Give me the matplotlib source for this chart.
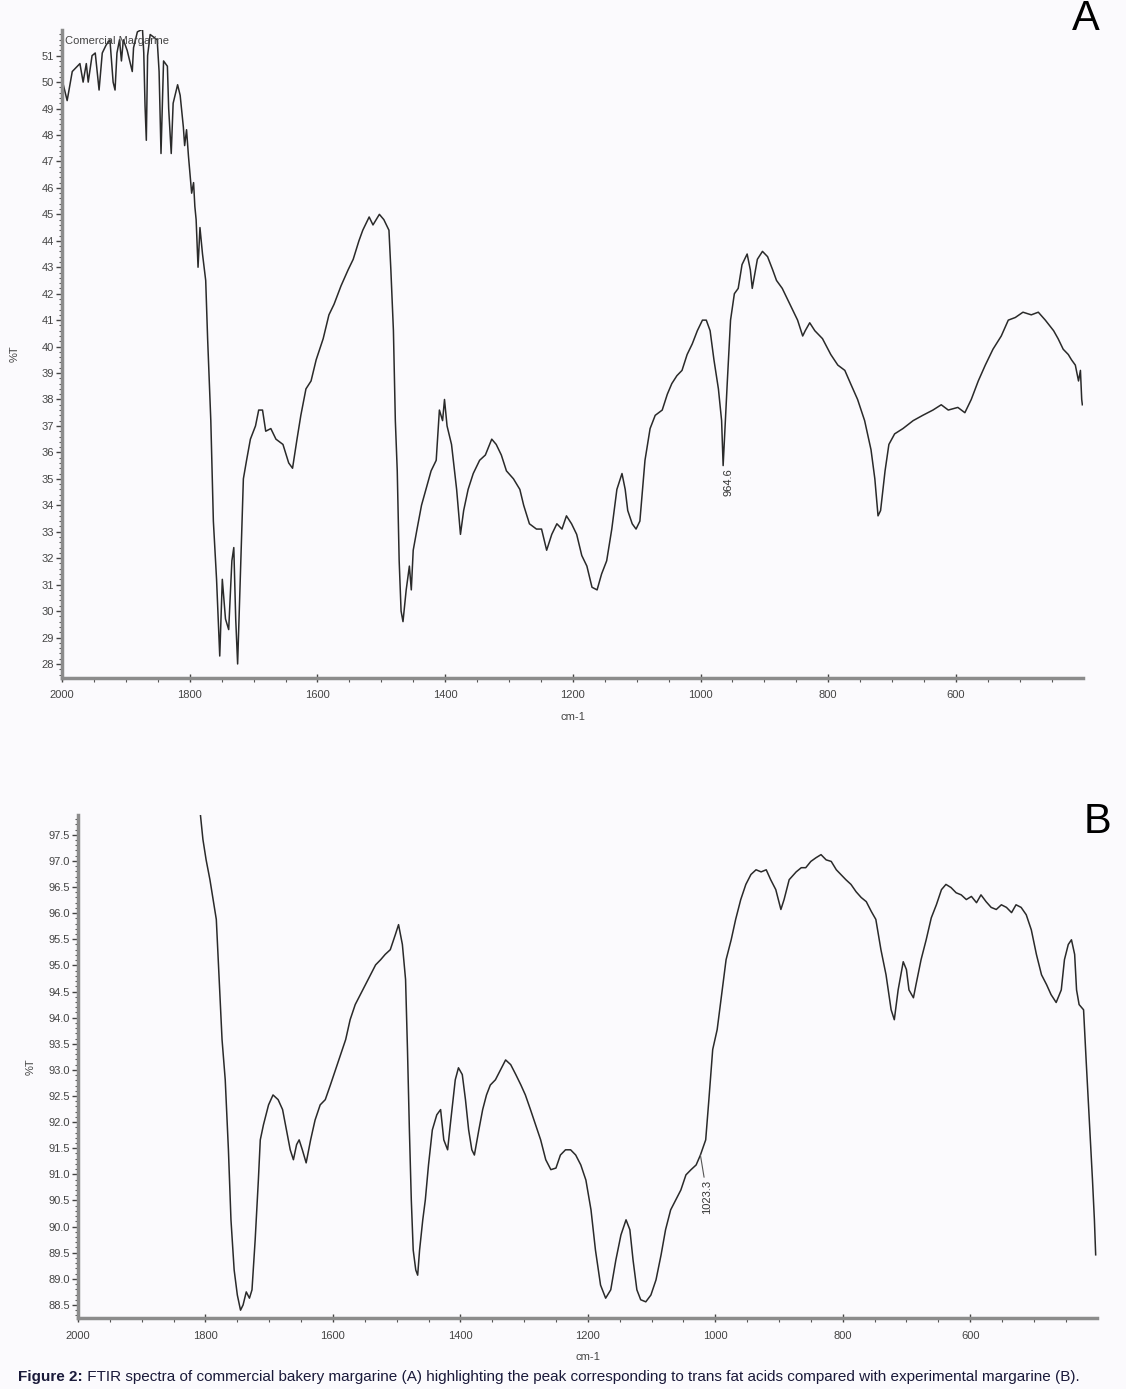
"""
FTIR spectra of commercial (A) and experimental (B) margarine.
"""

import numpy as np
import matplotlib
matplotlib.use('Agg')
import matplotlib.pyplot as plt
from matplotlib.ticker import MultipleLocator

plt.rcParams['font.family'] = ['Liberation Sans', 'DejaVu Sans']

# spectrum A : commercial margarine (wavenumber cm-1, %T)
a_wn = [2000, 1992, 1984, 1972, 1967, 1962, 1959, 1953, 1948, 1942, 1937, 1931,
        1925, 1920, 1917, 1914, 1910, 1907, 1904, 1898, 1890, 1888, 1882, 1874,
        1872, 1870, 1868, 1866, 1862, 1851, 1848, 1845, 1841, 1835, 1833, 1829,
        1826, 1819, 1815, 1810, 1808, 1805, 1802, 1797, 1794, 1792, 1790, 1787,
        1784, 1780, 1775, 1772, 1767, 1763, 1758, 1753, 1749, 1744, 1739, 1734,
        1731, 1728, 1725, 1720, 1716, 1711, 1705, 1697, 1692, 1686, 1681, 1673,
        1665, 1654, 1645, 1639, 1632, 1626, 1618, 1610, 1602, 1591, 1582, 1574,
        1563, 1552, 1544, 1535, 1529, 1519, 1513, 1503, 1496, 1488, 1485, 1481,
        1478, 1475, 1472, 1469, 1466, 1461, 1456, 1453, 1450, 1444, 1437, 1430,
        1422, 1414, 1409, 1404, 1401, 1397, 1390, 1382, 1376, 1371, 1364, 1356,
        1346, 1337, 1327, 1320, 1312, 1304, 1293, 1283, 1277, 1268, 1257, 1249,
        1241, 1233, 1225, 1217, 1210, 1202, 1194, 1186, 1178, 1170, 1162, 1155,
        1147, 1139, 1131, 1123, 1118, 1114, 1107, 1101, 1095, 1087, 1079, 1071,
        1060, 1052, 1045, 1037, 1029, 1021, 1013, 1005, 997, 991, 985, 979,
        972, 967, 964.6, 958, 953, 947, 941, 935, 927, 922, 919, 911,
        903, 895, 887, 881, 872, 864, 856, 848, 840, 836, 829, 821,
        809, 796, 785, 774, 765, 754, 743, 733, 727, 722, 718, 711,
        705, 696, 683, 667, 652, 636, 623, 612, 597, 586, 576, 565,
        554, 542, 529, 518, 507, 495, 482, 471, 460, 447, 440, 432,
        424, 419, 413, 408, 405, 403, 402]
a_t = [50.1, 49.3, 50.4, 50.7, 50.0, 50.7, 50.0, 51.0, 51.1, 49.7, 51.1, 51.4,
       51.6, 50.0, 49.7, 51.1, 51.6, 50.8, 51.6, 51.2, 50.4, 51.3, 51.9, 52.0,
       51.1, 49.1, 47.8, 51.0, 51.8, 51.6, 50.4, 47.3, 50.8, 50.6, 49.0, 47.3,
       49.2, 49.9, 49.5, 48.3, 47.6, 48.2, 47.2, 45.8, 46.2, 45.3, 44.8, 43.0,
       44.5, 43.5, 42.5, 40.3, 37.2, 33.4, 31.2, 28.3, 31.2, 29.7, 29.3, 31.9,
       32.4, 29.7, 28.0, 31.9, 35.0, 35.7, 36.5, 37.0, 37.6, 37.6, 36.8, 36.9,
       36.5, 36.3, 35.6, 35.4, 36.5, 37.4, 38.4, 38.7, 39.5, 40.3, 41.2, 41.6,
       42.3, 42.9, 43.3, 44.0, 44.4, 44.9, 44.6, 45.0, 44.8, 44.4, 42.9, 40.6,
       37.2, 35.3, 31.9, 30.0, 29.6, 30.8, 31.7, 30.8, 32.3, 33.1, 34.0, 34.6,
       35.3, 35.7, 37.6, 37.2, 38.0, 37.0, 36.3, 34.6, 32.9, 33.8, 34.6, 35.2,
       35.7, 35.9, 36.5, 36.3, 35.9, 35.3, 35.0, 34.6, 34.0, 33.3, 33.1, 33.1,
       32.3, 32.9, 33.3, 33.1, 33.6, 33.3, 32.9, 32.1, 31.7, 30.9, 30.8, 31.4,
       31.9, 33.1, 34.6, 35.2, 34.6, 33.8, 33.3, 33.1, 33.4, 35.7, 36.9, 37.4,
       37.6, 38.2, 38.6, 38.9, 39.1, 39.7, 40.1, 40.6, 41.0, 41.0, 40.6, 39.5,
       38.4, 37.2, 35.5, 38.7, 41.0, 42.0, 42.2, 43.1, 43.5, 42.9, 42.2, 43.3,
       43.6, 43.4, 42.9, 42.5, 42.2, 41.8, 41.4, 41.0, 40.4, 40.6, 40.9, 40.6,
       40.3, 39.7, 39.3, 39.1, 38.6, 38.0, 37.2, 36.1, 35.0, 33.6, 33.8, 35.3,
       36.3, 36.7, 36.9, 37.2, 37.4, 37.6, 37.8, 37.6, 37.7, 37.5, 38.0, 38.7,
       39.3, 39.9, 40.4, 41.0, 41.1, 41.3, 41.2, 41.3, 41.0, 40.6, 40.3, 39.9,
       39.7, 39.5, 39.3, 38.7, 39.1, 38.0, 37.8]

# spectrum B : experimental margarine
b_wn = [1808, 1804, 1799, 1793, 1788, 1783, 1780, 1777, 1774, 1769, 1764, 1760,
        1755, 1750, 1745, 1741, 1736, 1731, 1727, 1722, 1717, 1714, 1709, 1701,
        1694, 1686, 1679, 1673, 1667, 1662, 1657, 1653, 1648, 1642, 1635, 1628,
        1620, 1612, 1604, 1596, 1588, 1580, 1573, 1565, 1557, 1549, 1541, 1533,
        1525, 1518, 1510, 1502, 1497, 1491, 1486, 1483, 1480, 1477, 1474, 1470,
        1467, 1464, 1459, 1455, 1450, 1444, 1437, 1431, 1426, 1420, 1415, 1408,
        1403, 1397, 1392, 1387, 1382, 1378, 1371, 1365, 1359, 1353, 1345, 1337,
        1329, 1321, 1313, 1305, 1298, 1290, 1282, 1274, 1266, 1258, 1250, 1243,
        1235, 1227, 1219, 1211, 1203, 1195, 1188, 1180, 1172, 1164, 1156, 1148,
        1140, 1134, 1129, 1123, 1117, 1109, 1101, 1093, 1085, 1078, 1070, 1062,
        1054, 1046, 1038, 1030, 1023.3, 1015, 1010, 1004, 997, 991, 983, 975,
        968, 960, 952, 944, 936, 928, 920, 913, 905, 897, 892, 884,
        873, 865, 858, 850, 842, 834, 826, 818, 810, 803, 795, 787,
        779, 771, 763, 755, 748, 740, 732, 724, 719, 713, 705, 700,
        696, 689, 685, 677, 669, 661, 653, 645, 638, 630, 622, 614,
        606, 598, 590, 583, 575, 567, 559, 551, 543, 535, 528, 520,
        512, 504, 496, 488, 480, 473, 465, 457, 452, 446, 441, 436,
        433, 429, 422, 418, 413, 408, 405, 403]
b_t = [97.89, 97.41, 97.02, 96.64, 96.26, 95.88, 95.11, 94.34, 93.58, 92.81, 91.47, 90.13,
       89.17, 88.69, 88.40, 88.50, 88.75, 88.63, 88.79, 89.75, 90.89, 91.66, 91.95, 92.33,
       92.52, 92.43, 92.24, 91.85, 91.47, 91.28, 91.57, 91.66, 91.47, 91.22, 91.66, 92.04,
       92.33, 92.43, 92.71, 93.00, 93.29, 93.58, 93.96, 94.25, 94.44, 94.63, 94.82, 95.01,
       95.11, 95.21, 95.30, 95.59, 95.78, 95.40, 94.73, 93.39, 91.85, 90.51, 89.55, 89.17,
       89.07, 89.55, 90.13, 90.51, 91.18, 91.85, 92.14, 92.24, 91.66, 91.47, 92.04, 92.81,
       93.04, 92.91, 92.43, 91.85, 91.47, 91.37, 91.85, 92.24, 92.52, 92.71, 92.81, 93.00,
       93.19, 93.10, 92.91, 92.71, 92.52, 92.24, 91.95, 91.66, 91.28, 91.09, 91.12, 91.37,
       91.47, 91.47, 91.37, 91.18, 90.89, 90.32, 89.55, 88.88, 88.63, 88.79, 89.36, 89.84,
       90.13, 89.94, 89.36, 88.79, 88.60, 88.56, 88.69, 88.98, 89.46, 89.94, 90.32, 90.51,
       90.70, 90.99, 91.09, 91.18, 91.37, 91.66, 92.43, 93.39, 93.77, 94.34, 95.11, 95.49,
       95.88, 96.26, 96.55, 96.74, 96.83, 96.79, 96.83, 96.64, 96.45, 96.07, 96.26, 96.64,
       96.79, 96.87, 96.87, 96.99, 97.06, 97.12, 97.02, 96.99, 96.83, 96.74, 96.64, 96.55,
       96.41, 96.30, 96.22, 96.03, 95.88, 95.30, 94.82, 94.15, 93.96, 94.53, 95.07, 94.92,
       94.53, 94.38, 94.63, 95.11, 95.49, 95.91, 96.16, 96.45, 96.55, 96.49, 96.39, 96.35,
       96.26, 96.32, 96.20, 96.35, 96.22, 96.11, 96.07, 96.16, 96.11, 96.01, 96.16, 96.11,
       95.97, 95.68, 95.21, 94.82, 94.63, 94.44, 94.29, 94.53, 95.11, 95.40, 95.49, 95.21,
       94.53, 94.25, 94.15, 93.19, 92.04, 90.89, 90.13, 89.46]

peak_a = 964.6
peak_b = 1023.3

caption_head = 'Figure 2:'
caption_body = (' FTIR spectra of commercial bakery margarine (A) highlighting the peak '
                'corresponding to trans fat acids compared with experimental margarine (B).')

grey = '#8c8c8c'


def style_axis(ax, ylo, yhi, ymaj, ymin, fmt):
    ax.set_xlim(2000, 401)
    ax.set_ylim(ylo, yhi)
    for s in ['top', 'right']:
        ax.spines[s].set_visible(False)
    for s in ['left', 'bottom']:
        ax.spines[s].set_color(grey)
        ax.spines[s].set_linewidth(2.5)
    ax.set_facecolor('none')
    ax.xaxis.set_major_locator(MultipleLocator(200))
    ax.xaxis.set_minor_locator(MultipleLocator(50))
    ax.yaxis.set_major_locator(MultipleLocator(ymaj))
    ax.yaxis.set_minor_locator(MultipleLocator(ymin))
    ax.yaxis.set_major_formatter(plt.FormatStrFormatter(fmt))
    ax.tick_params(axis='both', which='major', labelsize=8, colors='#444444',
                   length=4, width=1, pad=2)
    ax.tick_params(axis='y', which='minor', length=2.5, width=0.8, colors='#555555')
    ax.tick_params(axis='x', which='minor', length=3, width=0.8, colors='#555555')
    ax.tick_params(axis='x', which='major', pad=6, direction='inout', length=6)
    ax.set_xlabel('cm-1', fontsize=8, color='#444444', labelpad=8)
    ax.set_ylabel('%T', fontsize=8, color='#444444')


fig = plt.figure(figsize=(11.26, 13.89), dpi=100, facecolor='#fbfafd')

# panel A
axA = fig.add_axes([0.0551, 0.5119, 0.9067, 0.4665])
axA.plot(a_wn, a_t, color='#2a2a2a', lw=1.1)
style_axis(axA, 27.47, 51.97, 1, 0.2, '%d')
axA.yaxis.set_label_coords(-0.042, 0.5)
axA.text(1995, 51.55, 'Comercial Margarine', fontsize=8, color='#444444',
         va='center', ha='left')
ta = np.interp(peak_a, a_wn[::-1], a_t[::-1])
axA.annotate('%.1f' % peak_a, xy=(peak_a, ta), xytext=(4, -2),
             textcoords='offset points', rotation=90, fontsize=8,
             ha='center', va='top', color='#333333')

# panel B
axB = fig.add_axes([0.0693, 0.0511, 0.9049, 0.3622])
axB.plot(b_wn, b_t, color='#2a2a2a', lw=1.1)
style_axis(axB, 88.25, 97.88, 0.5, 0.1, '%.1f')
axB.yaxis.set_label_coords(-0.042, 0.5)
tb = np.interp(peak_b, b_wn[::-1], b_t[::-1])
axB.annotate('%.1f' % peak_b, xy=(peak_b, tb), xytext=(5, -18),
             textcoords='offset points', rotation=90, fontsize=8,
             ha='center', va='top', color='#333333',
             arrowprops=dict(arrowstyle='-', color='#555555', lw=0.8,
                             shrinkA=0, shrinkB=0))

fig.text(0.9645, 0.986, 'A', fontsize=30, ha='center', va='center')
fig.text(0.975, 0.4085, 'B', fontsize=30, ha='center', va='center')

# caption: bold head, body placed right after it
cap = fig.text(0.016, 0.0085, caption_head, fontsize=11, fontweight='bold',
               color='#1a1a3a', ha='left', va='center')
fig.add_artist(plt.Annotation(caption_body, xy=(1, 0.5), xycoords=cap,
                              ha='left', va='center', fontsize=11,
                              color='#1a1a3a'))

plt.savefig('out.png', dpi=100, facecolor=fig.get_facecolor())
